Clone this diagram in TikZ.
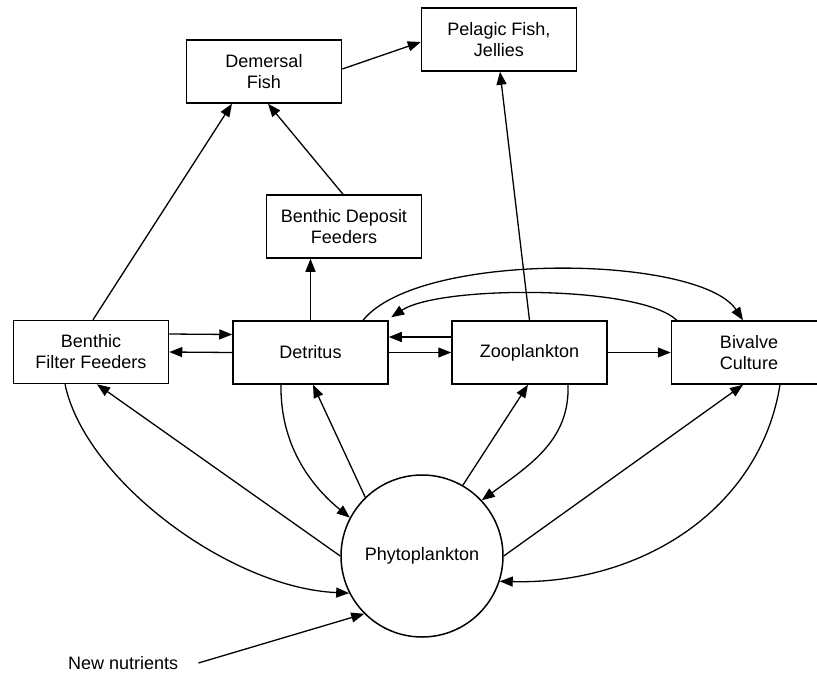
\documentclass[tikz,border=0pt]{standalone}
\usepackage{fontspec}
\setmainfont{Liberation Sans}
\usetikzlibrary{arrows.meta}
\begin{document}
\begin{tikzpicture}[x=1pt,y=-1pt,
  box/.style={draw, line width=1.5pt, minimum width=155pt, minimum height=63pt, inner sep=0pt, align=center, font=\fontsize{18pt}{21pt}\selectfont},
  lbl/.style={inner sep=0pt, font=\fontsize{18pt}{21pt}\selectfont},
  conn/.style={line width=1.3pt, -{Triangle[length=13pt,width=10pt]}},
  plain/.style={line width=1.3pt}]
\useasboundingbox (0,0) rectangle (817,673);
\clip (0,0) rectangle (817,673);
\node[box] (demersal) at (264,71.5) {Demersal\\Fish};
\node[box] (pelagic) at (499,39.5) {Pelagic Fish,\\Jellies};
\node[box] (deposit) at (344,226.5) {Benthic Deposit\\Feeders};
\node[box] (filter) at (91,352) {Benthic\\Filter Feeders};
\node[box] (detritus) at (310.5,352.5) {Detritus};
\node[box] (zoo) at (529.5,352.5) {Zooplankton};
\node[box] (bivalve) at (749,352.5) {Bivalve\\Culture};
\node[draw, circle, line width=1.5pt, minimum size=162pt, inner sep=0pt, font=\fontsize{18pt}{21pt}\selectfont] (phyto) at (422,556) {Phytoplankton};
\node[lbl, anchor=west] (nutrients) at (68,663) {New nutrients};

% upper connections
\draw[conn] ([yshift=2.5pt]demersal.east) -- ([yshift=-2.5pt]pelagic.west);
\draw[conn] ([xshift=2pt]filter.north) -- ([xshift=-32pt]demersal.south);
\draw[conn] ([xshift=-1pt]deposit.north) -- ([xshift=4pt]demersal.south);
\draw[conn] (detritus.north) -- (detritus.north |- deposit.south);
\draw[conn] (zoo.north) -- ([xshift=1pt]pelagic.south);

% horizontal row
\draw[conn] ([yshift=18pt]filter.east) -- ([yshift=18pt]detritus.west);
\draw[conn] (detritus.west) -- (filter.east);
\draw[conn] ([yshift=15.5pt]zoo.west) -- ([yshift=15.5pt]detritus.east);
\draw[conn] (detritus.east) -- (zoo.west);
\draw[conn] (zoo.east) -- (bivalve.west);

% arcs between detritus and bivalve
\draw[conn] ([xshift=52.5pt]detritus.north) .. controls (420,250) and (700,255) .. ([xshift=-6pt]bivalve.north);
\draw[conn] ([xshift=6pt]bivalve.north west) .. controls (640,285) and (440,285) .. ([xshift=2.5pt,yshift=3pt]detritus.north east);

% phytoplankton straight links
\draw[conn] (phyto.180) -- ([xshift=6pt]filter.south);
\draw[conn] (phyto.134) -- ([xshift=2.5pt]detritus.south);
\draw[conn] (phyto.60) -- ([xshift=-1.5pt]zoo.south);
\draw[conn] (phyto.0) -- ([xshift=-6pt]bivalve.south);

% curves into phytoplankton
\draw[conn] ([xshift=-26pt]filter.south) .. controls (85,480) and (230,588) .. (phyto.207);
\draw[conn] ([xshift=-29.5pt]detritus.south) .. controls (280,450) and (316,490) .. (phyto.152);
\draw[conn] ([xshift=38.5pt]zoo.south) .. controls (570,440) and (530,465) .. (phyto.43);
\draw[conn] ([xshift=31pt]bivalve.south) .. controls (760,510) and (640,585) .. (phyto.-18);

% new nutrients
\draw[conn] ([xshift=20pt]nutrients.east) -- (phyto.225);
\end{tikzpicture}
\end{document}
